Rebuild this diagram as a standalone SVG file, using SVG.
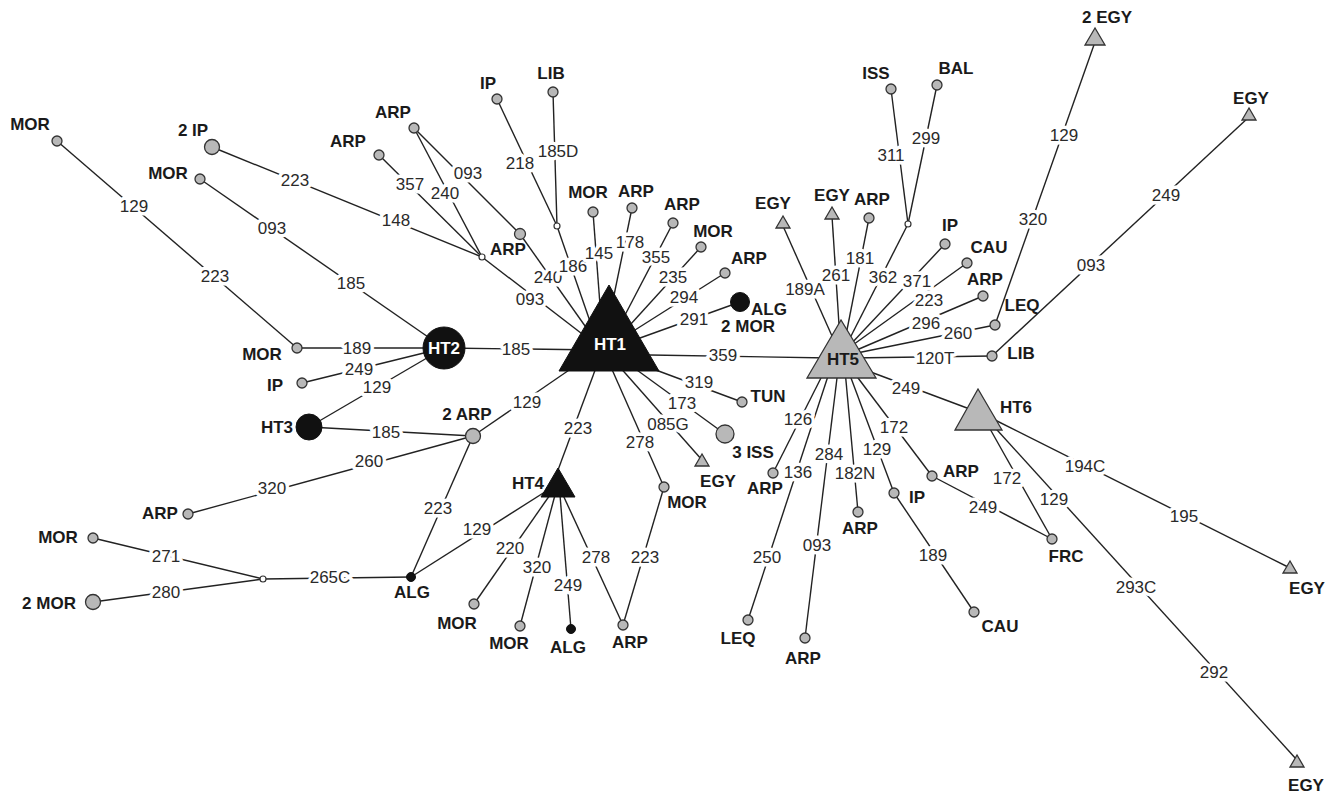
<svg xmlns="http://www.w3.org/2000/svg" width="1332" height="795" viewBox="0 0 1332 795">
<style>
.e{stroke:#222;stroke-width:1.4;fill:none}
.el{font-family:"Liberation Sans",Arial,sans-serif;font-size:17px;fill:#2a2a2a;text-anchor:middle;dominant-baseline:central;paint-order:stroke;stroke:#fff;stroke-width:7px;stroke-linejoin:round}
.nl{font-family:"Liberation Sans",Arial,sans-serif;font-size:17px;font-weight:bold;fill:#1a1a1a;text-anchor:middle;dominant-baseline:central}
.wl{font-family:"Liberation Sans",Arial,sans-serif;font-size:17px;font-weight:bold;fill:#fff;text-anchor:middle;dominant-baseline:central}
.g{fill:#b8b8b8;stroke:#333;stroke-width:1.3}
.b{fill:#111;stroke:#111;stroke-width:1}
.o{fill:#fff;stroke:#333;stroke-width:1.2}
</style>
<rect width="1332" height="795" fill="#fff"/>
<g id="connectors">
<line class="e" x1="57" y1="141" x2="297" y2="348"/>
<line class="e" x1="297" y1="348" x2="444" y2="348"/>
<line class="e" x1="302" y1="383" x2="444" y2="348"/>
<line class="e" x1="309" y1="427" x2="444" y2="348"/>
<line class="e" x1="200" y1="179" x2="444" y2="348"/>
<line class="e" x1="444" y1="348" x2="600" y2="350"/>
<line class="e" x1="309" y1="427" x2="473" y2="436"/>
<line class="e" x1="188" y1="514" x2="473" y2="436"/>
<line class="e" x1="473" y1="436" x2="575" y2="366"/>
<line class="e" x1="473" y1="436" x2="411" y2="577"/>
<line class="e" x1="411" y1="577" x2="263" y2="579"/>
<line class="e" x1="263" y1="579" x2="93" y2="538"/>
<line class="e" x1="263" y1="579" x2="93" y2="602"/>
<line class="e" x1="411" y1="577" x2="548" y2="490"/>
<line class="e" x1="558" y1="470" x2="597" y2="365"/>
<line class="e" x1="552" y1="492" x2="474" y2="604"/>
<line class="e" x1="555" y1="495" x2="520" y2="626"/>
<line class="e" x1="560" y1="495" x2="571" y2="629"/>
<line class="e" x1="563" y1="495" x2="623" y2="625"/>
<line class="e" x1="610" y1="365" x2="664" y2="487"/>
<line class="e" x1="664" y1="487" x2="623" y2="625"/>
<line class="e" x1="618" y1="365" x2="702" y2="460"/>
<line class="e" x1="630" y1="365" x2="725" y2="434"/>
<line class="e" x1="645" y1="366" x2="742" y2="402"/>
<line class="e" x1="650" y1="355" x2="830" y2="358"/>
<line class="e" x1="212" y1="147" x2="482" y2="257"/>
<line class="e" x1="379" y1="155" x2="482" y2="257"/>
<line class="e" x1="414" y1="128" x2="482" y2="257"/>
<line class="e" x1="414" y1="128" x2="520" y2="234"/>
<line class="e" x1="482" y1="257" x2="590" y2="340"/>
<line class="e" x1="520" y1="234" x2="590" y2="333"/>
<line class="e" x1="497" y1="99" x2="557" y2="226"/>
<line class="e" x1="553" y1="92" x2="557" y2="226"/>
<line class="e" x1="557" y1="226" x2="593" y2="330"/>
<line class="e" x1="593" y1="212" x2="600" y2="305"/>
<line class="e" x1="632" y1="208" x2="612" y2="305"/>
<line class="e" x1="673" y1="223" x2="625" y2="315"/>
<line class="e" x1="701" y1="247" x2="630" y2="325"/>
<line class="e" x1="725" y1="273" x2="635" y2="330"/>
<line class="e" x1="740" y1="302" x2="640" y2="338"/>
<line class="e" x1="783" y1="226" x2="836" y2="345"/>
<line class="e" x1="832" y1="216" x2="840" y2="340"/>
<line class="e" x1="869" y1="218" x2="845" y2="340"/>
<line class="e" x1="908" y1="224" x2="848" y2="342"/>
<line class="e" x1="891" y1="89" x2="908" y2="224"/>
<line class="e" x1="937" y1="85" x2="908" y2="224"/>
<line class="e" x1="945" y1="244" x2="850" y2="345"/>
<line class="e" x1="967" y1="263" x2="850" y2="347"/>
<line class="e" x1="983" y1="296" x2="852" y2="352"/>
<line class="e" x1="995" y1="325" x2="852" y2="354"/>
<line class="e" x1="992" y1="356" x2="850" y2="358"/>
<line class="e" x1="995" y1="325" x2="1095" y2="42"/>
<line class="e" x1="992" y1="356" x2="1249" y2="117"/>
<line class="e" x1="860" y1="368" x2="967" y2="408"/>
<line class="e" x1="825" y1="370" x2="773" y2="473"/>
<line class="e" x1="830" y1="370" x2="748" y2="620"/>
<line class="e" x1="838" y1="370" x2="805" y2="638"/>
<line class="e" x1="845" y1="370" x2="858" y2="512"/>
<line class="e" x1="848" y1="370" x2="894" y2="493"/>
<line class="e" x1="894" y1="493" x2="974" y2="612"/>
<line class="e" x1="852" y1="370" x2="932" y2="476"/>
<line class="e" x1="932" y1="476" x2="1052" y2="539"/>
<line class="e" x1="985" y1="420" x2="1052" y2="539"/>
<line class="e" x1="988" y1="420" x2="1297" y2="760"/>
<line class="e" x1="995" y1="420" x2="1290" y2="568"/>
</g>
<g id="edge-labels">
<text class="el" x="134" y="206">129</text>
<text class="el" x="215" y="276">223</text>
<text class="el" x="357" y="348">189</text>
<text class="el" x="359" y="369">249</text>
<text class="el" x="377" y="387">129</text>
<text class="el" x="272" y="228">093</text>
<text class="el" x="351" y="283">185</text>
<text class="el" x="516" y="349">185</text>
<text class="el" x="386" y="432">185</text>
<text class="el" x="272" y="488">320</text>
<text class="el" x="369" y="461">260</text>
<text class="el" x="527" y="402">129</text>
<text class="el" x="438" y="508">223</text>
<text class="el" x="330" y="577">265C</text>
<text class="el" x="166" y="556">271</text>
<text class="el" x="166" y="592">280</text>
<text class="el" x="477" y="529">129</text>
<text class="el" x="578" y="428">223</text>
<text class="el" x="510" y="548">220</text>
<text class="el" x="537" y="567">320</text>
<text class="el" x="568" y="585">249</text>
<text class="el" x="596" y="557">278</text>
<text class="el" x="640" y="442">278</text>
<text class="el" x="645" y="557">223</text>
<text class="el" x="668" y="424">085G</text>
<text class="el" x="682" y="403">173</text>
<text class="el" x="699" y="382">319</text>
<text class="el" x="723" y="355">359</text>
<text class="el" x="295" y="180">223</text>
<text class="el" x="396" y="220">148</text>
<text class="el" x="410" y="184">357</text>
<text class="el" x="445" y="193">240</text>
<text class="el" x="468" y="173">093</text>
<text class="el" x="530" y="299">093</text>
<text class="el" x="548" y="277">240</text>
<text class="el" x="520" y="163">218</text>
<text class="el" x="558" y="151">185D</text>
<text class="el" x="573" y="266">186</text>
<text class="el" x="599" y="253">145</text>
<text class="el" x="630" y="242">178</text>
<text class="el" x="656" y="257">355</text>
<text class="el" x="673" y="277">235</text>
<text class="el" x="684" y="297">294</text>
<text class="el" x="694" y="319">291</text>
<text class="el" x="805" y="289">189A</text>
<text class="el" x="836" y="275">261</text>
<text class="el" x="860" y="258">181</text>
<text class="el" x="883" y="277">362</text>
<text class="el" x="891" y="155">311</text>
<text class="el" x="926" y="138">299</text>
<text class="el" x="917" y="281">371</text>
<text class="el" x="929" y="300">223</text>
<text class="el" x="926" y="323">296</text>
<text class="el" x="958" y="333">260</text>
<text class="el" x="935" y="358">120T</text>
<text class="el" x="1033" y="219">320</text>
<text class="el" x="1064" y="135">129</text>
<text class="el" x="1091" y="265">093</text>
<text class="el" x="1166" y="195">249</text>
<text class="el" x="906" y="388">249</text>
<text class="el" x="798" y="419">126</text>
<text class="el" x="798" y="472">136</text>
<text class="el" x="767" y="557">250</text>
<text class="el" x="829" y="454">284</text>
<text class="el" x="817" y="545">093</text>
<text class="el" x="855" y="473">182N</text>
<text class="el" x="877" y="449">129</text>
<text class="el" x="933" y="555">189</text>
<text class="el" x="894" y="427">172</text>
<text class="el" x="983" y="507">249</text>
<text class="el" x="1007" y="478">172</text>
<text class="el" x="1054" y="499">129</text>
<text class="el" x="1136" y="587">293C</text>
<text class="el" x="1214" y="672">292</text>
<text class="el" x="1085" y="466">194C</text>
<text class="el" x="1184" y="516">195</text>
</g>
<g id="HT1"><polygon class="b" points="609,285 559,371 659,371"/><text class="wl" x="610" y="344">HT1</text></g>
<g id="HT2"><circle class="b" cx="444" cy="348" r="21"/><text class="wl" x="444" y="348">HT2</text></g>
<g id="HT3"><circle class="b" cx="309" cy="427" r="13"/><text class="nl" x="277" y="427">HT3</text></g>
<g id="HT4"><polygon class="b" points="558,468 541,497 575,497"/><text class="nl" x="528" y="483">HT4</text></g>
<g id="HT5"><polygon class="g" points="841,320 807,378 876,378"/><text class="nl" x="843" y="359">HT5</text></g>
<g id="HT6"><polygon class="g" points="978,389 955,430 1002,430"/><text class="nl" x="1016" y="407">HT6</text></g>
<g id="n-mor1"><circle class="g" cx="57" cy="141" r="5"/><text class="nl" x="30" y="124">MOR</text></g>
<g id="n-2ip"><circle class="g" cx="212" cy="147" r="7.5"/><text class="nl" x="193" y="130">2 IP</text></g>
<g id="n-mor2"><circle class="g" cx="200" cy="179" r="5"/><text class="nl" x="168" y="173">MOR</text></g>
<g id="n-arp1"><circle class="g" cx="379" cy="155" r="5"/><text class="nl" x="348" y="141">ARP</text></g>
<g id="n-arp2"><circle class="g" cx="414" cy="128" r="5"/><text class="nl" x="393" y="112">ARP</text></g>
<g id="n-ip1"><circle class="g" cx="497" cy="99" r="5"/><text class="nl" x="488" y="83">IP</text></g>
<g id="n-lib1"><circle class="g" cx="553" cy="92" r="5"/><text class="nl" x="551" y="73">LIB</text></g>
<g id="n-open1"><circle class="o" cx="482" cy="257" r="3"/></g>
<g id="n-open2"><circle class="o" cx="557" cy="226" r="3"/></g>
<g id="n-arp3"><circle class="g" cx="520" cy="234" r="5.5"/><text class="nl" x="508" y="249">ARP</text></g>
<g id="n-mor3"><circle class="g" cx="593" cy="212" r="5"/><text class="nl" x="588" y="192">MOR</text></g>
<g id="n-arp4"><circle class="g" cx="632" cy="208" r="5"/><text class="nl" x="636" y="191">ARP</text></g>
<g id="n-arp5"><circle class="g" cx="673" cy="223" r="5"/><text class="nl" x="682" y="204">ARP</text></g>
<g id="n-mor4"><circle class="g" cx="701" cy="247" r="5"/><text class="nl" x="713" y="231">MOR</text></g>
<g id="n-arp6"><circle class="g" cx="725" cy="273" r="5"/><text class="nl" x="749" y="258">ARP</text></g>
<g id="n-alg1"><circle class="b" cx="740" cy="302" r="9.5"/><text class="nl" x="769" y="309">ALG</text><text class="nl" x="748" y="326">2 MOR</text></g>
<g id="n-mor5"><circle class="g" cx="297" cy="348" r="5"/><text class="nl" x="262" y="354">MOR</text></g>
<g id="n-ip2"><circle class="g" cx="302" cy="383" r="5"/><text class="nl" x="275" y="385">IP</text></g>
<g id="n-2arp"><circle class="g" cx="473" cy="436" r="7.5"/><text class="nl" x="467" y="414">2 ARP</text></g>
<g id="n-arp7"><circle class="g" cx="188" cy="514" r="5"/><text class="nl" x="160" y="513">ARP</text></g>
<g id="n-mor6"><circle class="g" cx="93" cy="538" r="5"/><text class="nl" x="58" y="537">MOR</text></g>
<g id="n-2mor"><circle class="g" cx="93" cy="602" r="7.5"/><text class="nl" x="49" y="603">2 MOR</text></g>
<g id="n-open3"><circle class="o" cx="263" cy="579" r="3"/></g>
<g id="n-alg2"><circle class="b" cx="411" cy="577" r="4.5"/><text class="nl" x="412" y="592">ALG</text></g>
<g id="n-mor7"><circle class="g" cx="474" cy="604" r="5"/><text class="nl" x="457" y="623">MOR</text></g>
<g id="n-mor8"><circle class="g" cx="520" cy="626" r="5"/><text class="nl" x="509" y="643">MOR</text></g>
<g id="n-alg3"><circle class="b" cx="571" cy="629" r="4.5"/><text class="nl" x="568" y="647">ALG</text></g>
<g id="n-arp8"><circle class="g" cx="623" cy="625" r="5"/><text class="nl" x="630" y="642">ARP</text></g>
<g id="n-mor9"><circle class="g" cx="664" cy="487" r="5"/><text class="nl" x="687" y="502">MOR</text></g>
<g id="n-egy1"><polygon class="g" points="702,454 695,466 709,466"/><text class="nl" x="718" y="481">EGY</text></g>
<g id="n-3iss"><circle class="g" cx="725" cy="434" r="9"/><text class="nl" x="753" y="452">3 ISS</text></g>
<g id="n-tun"><circle class="g" cx="742" cy="402" r="5"/><text class="nl" x="768" y="396">TUN</text></g>
<g id="n-egy2"><polygon class="g" points="783,216 776,228 790,228"/><text class="nl" x="773" y="203">EGY</text></g>
<g id="n-egy3"><polygon class="g" points="832,207 825,219 839,219"/><text class="nl" x="832" y="195">EGY</text></g>
<g id="n-arp9"><circle class="g" cx="869" cy="218" r="5"/><text class="nl" x="872" y="199">ARP</text></g>
<g id="n-iss"><circle class="g" cx="891" cy="89" r="5"/><text class="nl" x="876" y="73">ISS</text></g>
<g id="n-bal"><circle class="g" cx="937" cy="85" r="5"/><text class="nl" x="956" y="68">BAL</text></g>
<g id="n-open4"><circle class="o" cx="908" cy="224" r="3"/></g>
<g id="n-2egy"><polygon class="g" points="1095,28 1085,45 1105,45"/><text class="nl" x="1107" y="17">2 EGY</text></g>
<g id="n-egy4"><polygon class="g" points="1249,108 1242,120 1256,120"/><text class="nl" x="1251" y="98">EGY</text></g>
<g id="n-ip3"><circle class="g" cx="945" cy="244" r="5"/><text class="nl" x="950" y="225">IP</text></g>
<g id="n-cau1"><circle class="g" cx="967" cy="263" r="5"/><text class="nl" x="989" y="247">CAU</text></g>
<g id="n-arp10"><circle class="g" cx="983" cy="296" r="5"/><text class="nl" x="985" y="279">ARP</text></g>
<g id="n-leq1"><circle class="g" cx="995" cy="325" r="5"/><text class="nl" x="1022" y="305">LEQ</text></g>
<g id="n-lib2"><circle class="g" cx="992" cy="356" r="5"/><text class="nl" x="1021" y="353">LIB</text></g>
<g id="n-arp11"><circle class="g" cx="773" cy="473" r="5"/><text class="nl" x="765" y="488">ARP</text></g>
<g id="n-leq2"><circle class="g" cx="748" cy="620" r="5"/><text class="nl" x="738" y="638">LEQ</text></g>
<g id="n-arp12"><circle class="g" cx="805" cy="638" r="5"/><text class="nl" x="803" y="658">ARP</text></g>
<g id="n-arp13"><circle class="g" cx="858" cy="512" r="5"/><text class="nl" x="860" y="528">ARP</text></g>
<g id="n-ip4"><circle class="g" cx="894" cy="493" r="5"/><text class="nl" x="917" y="497">IP</text></g>
<g id="n-cau2"><circle class="g" cx="974" cy="612" r="5"/><text class="nl" x="1000" y="626">CAU</text></g>
<g id="n-arp14"><circle class="g" cx="932" cy="476" r="5"/><text class="nl" x="961" y="471">ARP</text></g>
<g id="n-frc"><circle class="g" cx="1052" cy="539" r="5"/><text class="nl" x="1066" y="556">FRC</text></g>
<g id="n-egy5"><polygon class="g" points="1290,561 1283,573 1297,573"/><text class="nl" x="1307" y="588">EGY</text></g>
<g id="n-egy6"><polygon class="g" points="1297,755 1290,767 1304,767"/><text class="nl" x="1306" y="785">EGY</text></g>
</svg>
